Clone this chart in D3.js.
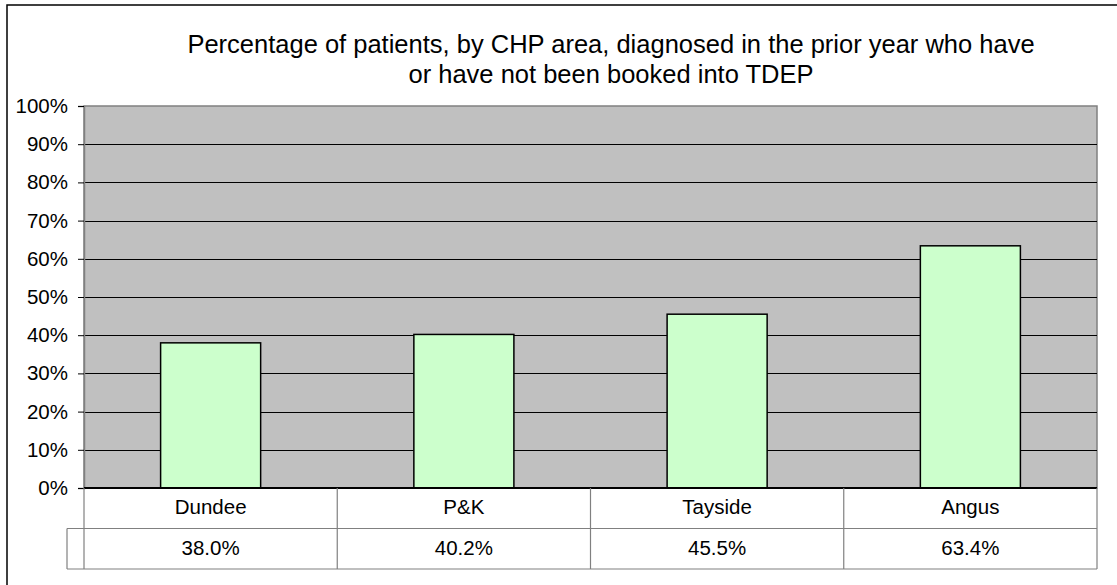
<!DOCTYPE html>
<html>
<head>
<meta charset="utf-8">
<script src="https://cdn.jsdelivr.net/npm/d3@7"></script>
<style>
  body { margin: 0; background: #fff; }
  text { font-family: "Liberation Sans", Arial, sans-serif; fill: #000; }
</style>
</head>
<body>
<div id="chart"></div>
<script>
var categories = ["Dundee", "P&K", "Tayside", "Angus"];
var values = [38.0, 40.2, 45.5, 63.4];
var yTicks = [0, 10, 20, 30, 40, 50, 60, 70, 80, 90, 100];
var titleLines = ["Percentage of patients, by CHP area, diagnosed in the prior year who have",
                  "or have not been booked into TDEP"];

var width = 1117, height = 585;
var plot = {left: 84, right: 1097, top: 106, bottom: 488};
var rowH = 40.5;

var svg = d3.select("#chart").append("svg")
  .attr("width", width)
  .attr("height", height);

// outer chart frame
svg.append("rect")
  .attr("x", 7).attr("y", 5)
  .attr("width", width + 20).attr("height", height + 20)
  .attr("fill", "#fff")
  .attr("stroke", "#000")
  .attr("stroke-width", 1.5);

var x = d3.scaleBand()
  .domain(categories)
  .range([plot.left, plot.right])
  .paddingInner(0.605)
  .paddingOuter(0.3025);

var xCell = d3.scaleBand()
  .domain(categories)
  .range([plot.left, plot.right]);

var y = d3.scaleLinear()
  .domain([0, 100])
  .range([plot.bottom, plot.top]);

// plot background
svg.append("rect")
  .attr("x", plot.left).attr("y", plot.top)
  .attr("width", plot.right - plot.left)
  .attr("height", plot.bottom - plot.top)
  .attr("fill", "#c0c0c0")
  .attr("stroke", "#808080")
  .attr("stroke-width", 1.5);

// gridlines
svg.append("g")
  .selectAll("line")
  .data(yTicks.filter(function(d) { return d > 0 && d < 100; }))
  .enter().append("line")
  .attr("x1", plot.left).attr("x2", plot.right)
  .attr("y1", function(d) { return Math.round(y(d)) + 0.5; })
  .attr("y2", function(d) { return Math.round(y(d)) + 0.5; })
  .attr("stroke", "#000")
  .attr("stroke-width", 1);

// y axis
var yAxis = d3.axisLeft(y)
  .tickValues(yTicks)
  .tickSize(6)
  .tickPadding(10)
  .tickFormat(function(d) { return d + "%"; });

var gy = svg.append("g")
  .attr("transform", "translate(" + plot.left + ",0)")
  .call(yAxis);
gy.select(".domain").attr("stroke", "#808080").attr("stroke-width", 1.5);
gy.selectAll(".tick line").attr("stroke", "#000");
gy.selectAll(".tick text")
  .style("font-family", "'Liberation Sans', Arial, sans-serif")
  .style("font-size", "20.5px")
  .attr("fill", "#000");

// bars
svg.append("g")
  .selectAll("rect")
  .data(values)
  .enter().append("rect")
  .attr("x", function(d, i) { return x(categories[i]); })
  .attr("y", function(d) { return y(d); })
  .attr("width", x.bandwidth())
  .attr("height", function(d) { return y(0) - y(d); })
  .attr("fill", "#ccffcc")
  .attr("stroke", "#000")
  .attr("stroke-width", 1.5);

// x axis line
svg.append("line")
  .attr("x1", plot.left).attr("x2", plot.right)
  .attr("y1", plot.bottom).attr("y2", plot.bottom)
  .attr("stroke", "#000")
  .attr("stroke-width", 2);

// data table
var table = svg.append("g").attr("stroke", "#808080").attr("stroke-width", 1.2);
var row2 = plot.bottom + rowH, row3 = plot.bottom + 2 * rowH;
table.append("line").attr("x1", 67).attr("x2", plot.right).attr("y1", row2).attr("y2", row2);
table.append("line").attr("x1", 67).attr("x2", plot.right).attr("y1", row3).attr("y2", row3);
table.append("line").attr("x1", 67).attr("x2", 67).attr("y1", row2).attr("y2", row3);
table.selectAll(".vline")
  .data(categories.concat(["end"]))
  .enter().append("line")
  .attr("class", "vline")
  .attr("x1", function(d, i) { return i < categories.length ? xCell(d) : plot.right; })
  .attr("x2", function(d, i) { return i < categories.length ? xCell(d) : plot.right; })
  .attr("y1", plot.bottom)
  .attr("y2", row3);

svg.append("g")
  .selectAll("text")
  .data(categories)
  .enter().append("text")
  .attr("x", function(d) { return xCell(d) + xCell.bandwidth() / 2; })
  .attr("y", plot.bottom + 26)
  .attr("text-anchor", "middle")
  .style("font-size", "20.5px")
  .text(function(d) { return d; });

svg.append("g")
  .selectAll("text")
  .data(values)
  .enter().append("text")
  .attr("x", function(d, i) { return xCell(categories[i]) + xCell.bandwidth() / 2; })
  .attr("y", row2 + 26)
  .attr("text-anchor", "middle")
  .style("font-size", "20.5px")
  .text(function(d) { return d.toFixed(1) + "%"; });

// title
svg.append("g")
  .selectAll("text")
  .data(titleLines)
  .enter().append("text")
  .attr("x", 611)
  .attr("y", function(d, i) { return 53 + i * 30; })
  .attr("text-anchor", "middle")
  .style("font-size", "25.5px")
  .text(function(d) { return d; });
</script>
</body>
</html>
